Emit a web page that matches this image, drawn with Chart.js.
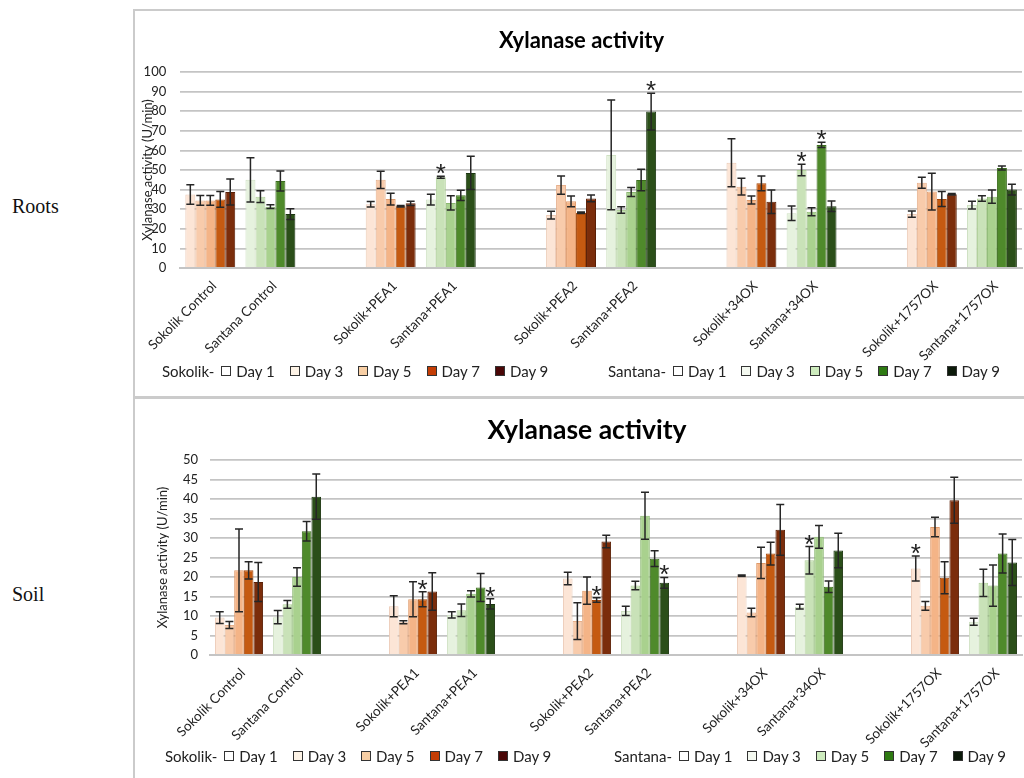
<!DOCTYPE html>
<html>
<head>
<meta charset="utf-8">
<title>Xylanase activity</title>
<script src="https://cdn.jsdelivr.net/npm/chart.js@4"></script>
<style>
  html, body { margin: 0; padding: 0; background: #fff; width: 1024px; height: 778px; overflow: hidden; }
  .rule { position: absolute; background: #cbcbcb; }
  .side { position: absolute; left: 12px; font-family: "Liberation Serif", serif; font-size: 20px; color: #111; }
  .panel { position: absolute; left: 135px; }
  .legend { position: absolute; display: flex; align-items: center; font-family: Lato, sans-serif; font-size: 15px; color: #222; white-space: nowrap; }
  .legend .lead { margin-right: 7px; }
  .legend .item { display: flex; align-items: center; margin-right: 15px; }
  .legend .box { width: 8px; height: 8px; border: 1px solid #333; margin-right: 5px; }
</style>
</head>
<body>
<div class="rule" style="left:133px; top:9px; width:2px; height:769px;"></div>
<div class="rule" style="left:133px; top:9px; width:891px; height:2px;"></div>
<div class="rule" style="left:133px; top:396px; width:891px; height:3px;"></div>

<div class="side" style="top:195px;">Roots</div>
<div class="side" style="top:583px;">Soil</div>

<div class="panel" style="top:12px; width:912px; height:383px;"><canvas id="roots" width="912" height="383"></canvas></div>
<div class="panel" style="top:400px; width:917px; height:378px;"><canvas id="soil" width="917" height="378"></canvas></div>

<div class="legend" id="rootsLegendA" style="left:162px; top:362px;"></div>
<div class="legend" id="rootsLegendB" style="left:608px; top:362px;"></div>
<div class="legend" id="soilLegendA" style="left:165px; top:747px;"></div>
<div class="legend" id="soilLegendB" style="left:614px; top:747px;"></div>

<script>
// Category slots along the x axis; empty strings are spacer slots between treatments
const CATEGORY_LABELS = [
  "Sokolik Control", "Santana Control", "",
  "Sokolik+PEA1", "Santana+PEA1", "",
  "Sokolik+PEA2", "Santana+PEA2", "",
  "Sokolik+34OX", "Santana+34OX", "",
  "Sokolik+1757OX", "Santana+1757OX"
];
const DAY_LABELS = ["Day 1", "Day 3", "Day 5", "Day 7", "Day 9"];
const SOKOLIK_SLOTS = [0, 3, 6, 9, 12];
const SANTANA_SLOTS = [1, 4, 7, 10, 13];

// Rows: Day 1, 3, 5, 7, 9 — columns: Control, PEA1, PEA2, 34OX, 1757OX
const ROOTS_SOKOLIK_MEAN = [
  [37.5, 32.5, 27.0, 53.7, 27.5],
  [34.5, 45.0, 42.3, 41.5, 43.5],
  [34.5, 35.2, 34.0, 34.7, 39.0],
  [35.0, 31.5, 28.2, 43.2, 35.2],
  [38.8, 33.0, 35.5, 33.8, 37.6]
];
const ROOTS_SOKOLIK_SD = [
  [5.0, 1.4, 2.0, 12.2, 1.6],
  [2.5, 4.4, 4.7, 4.3, 2.8],
  [2.5, 3.0, 2.7, 2.0, 9.4],
  [4.0, 0.4, 0.4, 3.8, 3.8],
  [6.6, 1.1, 1.7, 6.0, 0.4]
];
const ROOTS_SANTANA_MEAN = [
  [45.0, 34.9, 57.7, 27.9, 32.1],
  [36.4, 46.3, 29.6, 50.0, 35.4],
  [31.3, 33.2, 38.8, 28.7, 36.4],
  [44.4, 37.1, 44.9, 62.8, 51.0],
  [27.5, 48.5, 79.8, 31.5, 40.0]
];
const ROOTS_SANTANA_SD = [
  [11.3, 2.7, 28.0, 3.7, 2.0],
  [3.0, 0.5, 1.7, 2.9, 1.4],
  [1.0, 3.6, 2.3, 2.0, 3.4],
  [5.1, 2.6, 5.5, 1.3, 1.0],
  [2.7, 8.5, 9.4, 2.7, 2.7]
];
// Significant differences as [day index, treatment index]
const ROOTS_SOKOLIK_SIG = [];
const ROOTS_SANTANA_SIG = [[1, 1], [4, 2], [1, 3], [3, 3]];

const SOIL_SOKOLIK_MEAN = [
  [9.6, 12.5, 19.6, 20.3, 22.2],
  [7.7, 8.4, 8.7, 10.9, 12.6],
  [21.7, 14.3, 16.5, 23.6, 32.8],
  [21.7, 14.3, 14.1, 26.0, 19.8],
  [18.7, 16.3, 29.1, 32.1, 39.7]
];
const SOIL_SOKOLIK_SD = [
  [1.5, 2.7, 1.6, 0.2, 3.2],
  [0.9, 0.4, 4.7, 1.1, 1.1],
  [10.6, 4.5, 3.5, 4.0, 2.5],
  [2.2, 1.9, 0.6, 2.9, 4.1],
  [5.0, 4.8, 1.6, 6.5, 5.9]
];
const SOIL_SANTANA_MEAN = [
  [9.7, 10.3, 11.3, 12.4, 8.5],
  [13.0, 11.5, 17.8, 24.3, 18.5],
  [20.0, 15.7, 35.7, 30.3, 17.8],
  [31.7, 17.3, 24.7, 17.5, 26.0],
  [40.6, 13.1, 18.5, 26.8, 23.7]
];
const SOIL_SANTANA_SD = [
  [1.7, 0.8, 1.2, 0.6, 0.9],
  [1.0, 1.6, 1.1, 3.5, 3.5],
  [2.4, 0.8, 6.0, 2.9, 5.3],
  [2.5, 3.6, 2.0, 1.5, 5.0],
  [5.8, 1.3, 1.4, 4.4, 5.9]
];
const SOIL_SOKOLIK_SIG = [[3, 1], [3, 2], [0, 4]];
const SOIL_SANTANA_SIG = [[4, 1], [4, 2], [1, 3]];

const ROOTS_Y_MAX = 100, ROOTS_Y_STEP = 10;
const SOIL_Y_MAX = 50, SOIL_Y_STEP = 5;

const SOKOLIK_FILL = ["#fce5d6", "#f8cbab", "#f4b487", "#c55a11", "#7b2d0b"];
const SOKOLIK_EDGE = ["#eccbb6", "#e6b08c", "#df9a6a", "#a4470b", "#5a1f06"];
const SANTANA_FILL = ["#e6f2de", "#c9e2b8", "#a9d18e", "#4f8a2b", "#2b4f19"];
const SANTANA_EDGE = ["#cfe1c3", "#afcf98", "#8cb872", "#3c6d1f", "#1b3510"];
const LEGEND_SOKOLIK = ["#ffffff", "#fdf3e6", "#f8cfa5", "#c43d05", "#4a0707"];
const LEGEND_SANTANA = ["#ffffff", "#f4f9f0", "#cdebbd", "#2e7a12", "#0c1a0a"];

const FONT = "Lato, 'Open Sans', sans-serif";

function spread(values, slots) {
  const out = new Array(CATEGORY_LABELS.length).fill(null);
  slots.forEach((s, i) => { out[s] = values[i]; });
  return out;
}

function buildDatasets(variety, mean, sd, sig, slots, fill, edge) {
  return DAY_LABELS.map((day, k) => ({
    label: variety + " " + day,
    data: spread(mean[k], slots),
    errors: spread(sd[k], slots),
    marks: spread(mean[k].map((_, t) => sig.some(([d, tr]) => d === k && tr === t)), slots),
    backgroundColor: fill[k],
    borderColor: edge[k],
    borderWidth: 1,
    skipNull: true,
    categoryPercentage: 0.83,
    barPercentage: 1.0
  }));
}

// Draws the standard-deviation whiskers and significance asterisks on top of the bars
const errorBars = {
  id: "errorBars",
  afterDatasetsDraw(chart) {
    const ctx = chart.ctx;
    const y = chart.scales.y;
    ctx.save();
    chart.data.datasets.forEach((ds, di) => {
      const meta = chart.getDatasetMeta(di);
      meta.data.forEach((bar, i) => {
        const v = ds.data[i];
        if (v == null) return;
        const e = ds.errors[i] || 0;
        const top = y.getPixelForValue(v + e);
        const bot = y.getPixelForValue(Math.max(0, v - e));
        const cap = 4;
        ctx.strokeStyle = "#262626";
        ctx.lineWidth = 1.5;
        ctx.beginPath();
        ctx.moveTo(bar.x, top); ctx.lineTo(bar.x, bot);
        ctx.moveTo(bar.x - cap, top); ctx.lineTo(bar.x + cap, top);
        ctx.moveTo(bar.x - cap, bot); ctx.lineTo(bar.x + cap, bot);
        ctx.stroke();
        if (ds.marks[i]) {
          ctx.fillStyle = "#222";
          ctx.font = "26px 'Liberation Sans', sans-serif";
          ctx.textAlign = "center";
          ctx.textBaseline = "alphabetic";
          ctx.fillText("*", bar.x, top + 6);
        }
      });
    });
    ctx.restore();
  }
};

function makeChart(id, cfg) {
  const datasets = buildDatasets("Sokolik", cfg.sokMean, cfg.sokSd, cfg.sokSig, SOKOLIK_SLOTS, SOKOLIK_FILL, SOKOLIK_EDGE)
    .concat(buildDatasets("Santana", cfg.sanMean, cfg.sanSd, cfg.sanSig, SANTANA_SLOTS, SANTANA_FILL, SANTANA_EDGE));
  return new Chart(document.getElementById(id), {
    type: "bar",
    data: { labels: CATEGORY_LABELS, datasets },
    options: {
      responsive: false,
      animation: false,
      devicePixelRatio: 1,
      layout: { padding: { left: cfg.leftPad, right: cfg.rightPad, top: 0, bottom: 0 } },
      plugins: {
        legend: { display: false },
        tooltip: { enabled: false },
        title: {
          display: true,
          text: "Xylanase activity",
          color: "#000",
          font: { family: FONT, size: cfg.titleSize, weight: "bold" },
          padding: cfg.titlePadding
        }
      },
      scales: {
        x: {
          grid: { display: false, drawTicks: false },
          border: { display: true, color: "#c4c4c4", width: 2 },
          ticks: {
            autoSkip: false, minRotation: 45, maxRotation: 45,
            padding: 10, labelOffset: 4,
            color: "#222", font: { family: FONT, size: 13.5 }
          },
          afterFit(scale) { scale.height = cfg.xHeight; }
        },
        y: {
          min: 0, max: cfg.yMax,
          grid: { color: "#c4c4c4", lineWidth: 1.8, drawTicks: false },
          border: { display: false },
          ticks: { stepSize: cfg.yStep, padding: cfg.tickPad, color: "#222", font: { family: FONT, size: 13 } },
          title: {
            display: true, text: "Xylanase activity (U/min)", color: "#222",
            font: { family: FONT, size: 13 }, padding: { top: cfg.yTitlePad, bottom: 0 }
          },
          afterFit(scale) { scale.width = cfg.yWidth; }
        }
      }
    },
    plugins: [errorBars]
  });
}

makeChart("roots", {
  sokMean: ROOTS_SOKOLIK_MEAN, sokSd: ROOTS_SOKOLIK_SD, sokSig: ROOTS_SOKOLIK_SIG,
  sanMean: ROOTS_SANTANA_MEAN, sanSd: ROOTS_SANTANA_SD, sanSig: ROOTS_SANTANA_SIG,
  yMax: ROOTS_Y_MAX, yStep: ROOTS_Y_STEP,
  titleSize: 22, titlePadding: { top: 16, bottom: 17.6 },
  xHeight: 127, leftPad: 6, yWidth: 38, tickPad: 14, yTitlePad: -1.8, rightPad: 25
});

makeChart("soil", {
  sokMean: SOIL_SOKOLIK_MEAN, sokSd: SOIL_SOKOLIK_SD, sokSig: SOIL_SOKOLIK_SIG,
  sanMean: SOIL_SANTANA_MEAN, sanSd: SOIL_SANTANA_SD, sanSig: SOIL_SANTANA_SIG,
  yMax: SOIL_Y_MAX, yStep: SOIL_Y_STEP,
  titleSize: 26.5, titlePadding: { top: 15, bottom: 13.2 },
  xHeight: 123, leftPad: 17, yWidth: 58, tickPad: 12, yTitlePad: 3.2, rightPad: 30
});

// Legend rows: variety name followed by one swatch per sampling day
function buildLegend(id, name, colors) {
  const el = document.getElementById(id);
  const lead = document.createElement("span");
  lead.className = "lead";
  lead.textContent = name + "-";
  el.appendChild(lead);
  DAY_LABELS.forEach((d, k) => {
    const item = document.createElement("span");
    item.className = "item";
    const box = document.createElement("span");
    box.className = "box";
    box.style.background = colors[k];
    const txt = document.createElement("span");
    txt.textContent = d;
    item.appendChild(box);
    item.appendChild(txt);
    el.appendChild(item);
  });
}
buildLegend("rootsLegendA", "Sokolik", LEGEND_SOKOLIK);
buildLegend("rootsLegendB", "Santana", LEGEND_SANTANA);
buildLegend("soilLegendA", "Sokolik", LEGEND_SOKOLIK);
buildLegend("soilLegendB", "Santana", LEGEND_SANTANA);
</script>
</body>
</html>
